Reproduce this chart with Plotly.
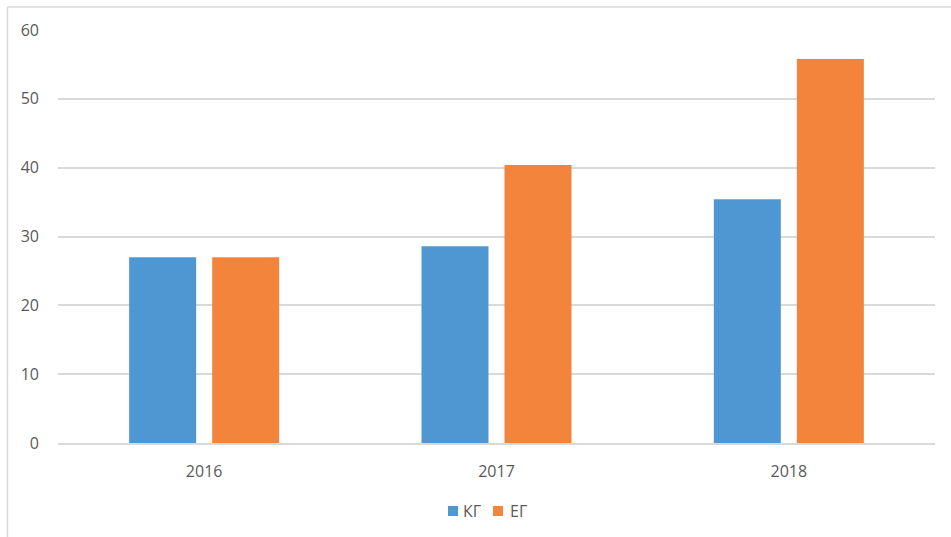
import plotly.graph_objects as go

categories = ["2016", "2017", "2018"]
series_names = ["КГ", "ЕГ"]
kg_values = [27.0, 28.6, 35.4]
eg_values = [27.0, 40.4, 55.8]
y_ticks = [0, 10, 20, 30, 40, 50, 60]
colors = ["#4F97D2", "#F2843C"]

W, H = 951, 537
L, R, T, B = 58, 16, 30, 94
PW, PH = W - L - R, H - T - B


def px_x(px):
    return (px - L) / PW


def px_y(py):
    return (H - B - py) / PH


fig = go.Figure()
for name, vals, col in zip(series_names, [kg_values, eg_values], colors):
    fig.add_trace(go.Bar(name=name, x=categories, y=vals, marker=dict(color=col, line=dict(width=0))))

font = dict(family="'Open Sans', sans-serif", size=16, color="#595959")

shapes = [
    dict(type="line", xref="paper", yref="paper", x0=px_x(7.5), x1=px_x(952), y0=px_y(7), y1=px_y(7),
         line=dict(color="#D9D9D9", width=1.5)),
    dict(type="line", xref="paper", yref="paper", x0=px_x(7.5), x1=px_x(7.5), y0=px_y(7), y1=px_y(540),
         line=dict(color="#D9D9D9", width=1.5)),
]
annotations = []
legend_sq = [448, 493]
legend_tx = [461, 508]
for name, col, sx, tx in zip(series_names, colors, legend_sq, legend_tx):
    shapes.append(dict(type="rect", xref="paper", yref="paper", x0=px_x(sx), x1=px_x(sx + 10),
                       y0=px_y(506), y1=px_y(516), fillcolor=col, line=dict(width=0)))
    annotations.append(dict(text=name, xref="paper", yref="paper", x=px_x(tx), y=px_y(511),
                            xanchor="left", yanchor="middle", showarrow=False, font=font))

fig.update_layout(
    width=W, height=H,
    margin=dict(l=L, r=R, t=T, b=B, pad=0),
    paper_bgcolor="white", plot_bgcolor="white",
    barmode="group", bargap=0.432, bargroupgap=0.193,
    font=font,
    showlegend=False,
    xaxis=dict(showgrid=False, showline=True, linecolor="#D9D9D9", linewidth=1.5,
               ticks="", ticklabelstandoff=13, tickfont=font, fixedrange=True),
    yaxis=dict(range=[0, 60], tickvals=y_ticks, showgrid=True, gridcolor="#D9D9D9", gridwidth=1.5,
               zeroline=False, showline=False, ticks="", ticklabelstandoff=18, tickfont=font),
    shapes=shapes,
    annotations=annotations,
)

fig.write_html("out.html")
